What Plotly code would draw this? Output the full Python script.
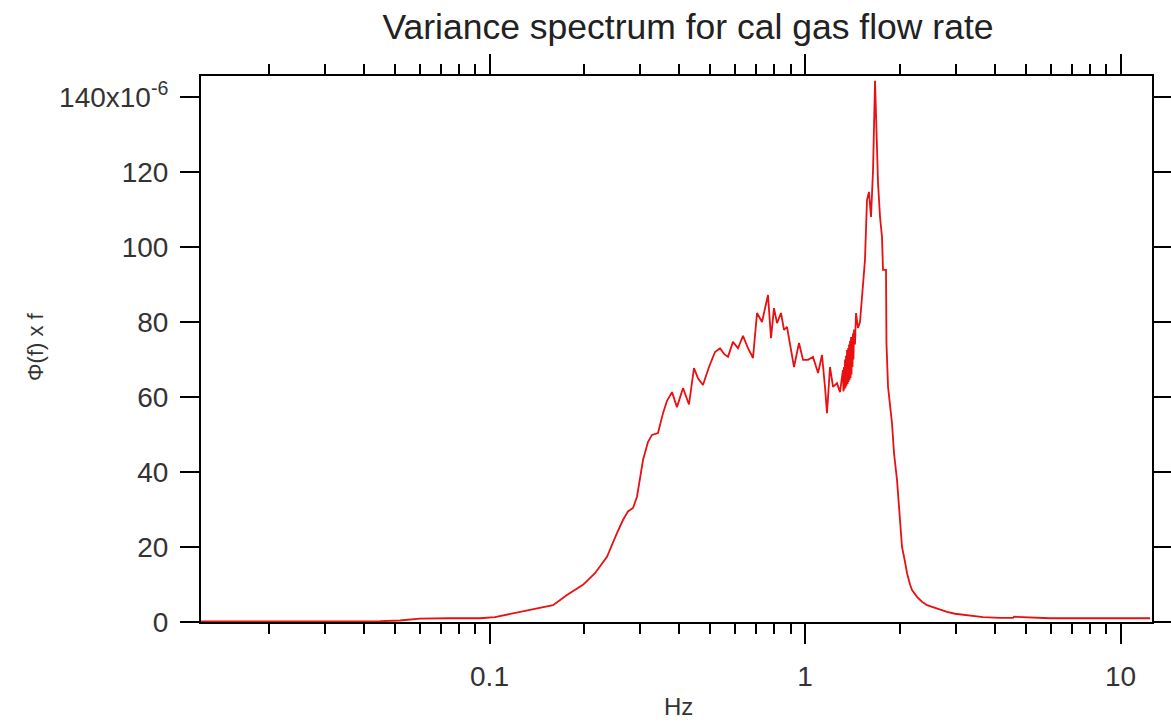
import plotly.graph_objects as go

# Frequency (Hz) and variance spectrum Phi(f) x f (units of 1e-6)
freq_hz = [0.01218, 0.02508, 0.0450, 0.0520, 0.0602, 0.0749, 0.0933, 0.1041, 0.1187, 0.1374,
           0.1590, 0.1760, 0.1978, 0.2160, 0.2357, 0.2535, 0.2649, 0.2748, 0.2850, 0.2934,
           0.3066, 0.3179, 0.3273, 0.3420, 0.3548, 0.3653, 0.3789, 0.3928, 0.4106, 0.4288,
           0.4447, 0.4579, 0.4749, 0.4962, 0.5185, 0.5377, 0.5537, 0.5701, 0.5912, 0.6132,
           0.6361, 0.6597, 0.6842, 0.7045, 0.7307, 0.7633, 0.7802, 0.7975, 0.8152, 0.8394,
           0.8579, 0.8769, 0.8964, 0.9229, 0.9572, 0.9856, 1.022, 1.060, 1.100, 1.132,
           1.157, 1.174, 1.200, 1.227, 1.263, 1.291, 1.319, 1.324, 1.329, 1.334,
           1.339, 1.344, 1.349, 1.354, 1.359, 1.364, 1.369, 1.374, 1.379, 1.384,
           1.389, 1.394, 1.399, 1.404, 1.409, 1.414, 1.419, 1.424, 1.430, 1.440,
           1.451, 1.472, 1.494, 1.516, 1.549,
           1.572, 1.595, 1.619, 1.643, 1.667, 1.692, 1.704, 1.729, 1.754, 1.767,
           1.806, 1.812, 1.833, 1.887, 1.915, 1.957, 2.000, 2.030, 2.075, 2.106,
           2.152, 2.184, 2.265, 2.349, 2.436, 2.527, 2.620, 2.718, 2.818, 2.988,
           3.168, 3.408, 3.666, 4.151, 4.563, 4.60, 5.976, 8.610, 12.41]
phi_f = [0.15, 0.15, 0.2, 0.4, 0.9, 1.0, 1.0, 1.3, 2.3, 3.3,
         4.5, 7.2, 9.9, 13.0, 17.4, 23.7, 27.2, 29.5, 30.4, 33.4,
         43.2, 48.0, 49.9, 50.4, 55.7, 59.0, 61.3, 57.3, 62.4, 58.0,
         67.7, 65.0, 63.2, 68.0, 72.0, 73.0, 71.5, 70.7, 74.7, 73.0,
         76.3, 73.0, 70.4, 82.4, 80.0, 87.2, 75.7, 83.7, 79.7, 82.4,
         77.9, 78.7, 73.9, 68.0, 74.4, 69.9, 69.9, 70.7, 66.4, 71.2,
         62.7, 55.7, 68.0, 62.7, 63.7, 61.3, 67.2, 61.5, 68.0, 62.0,
         70.0, 62.5, 71.0, 63.0, 72.5, 63.5, 73.0, 64.0, 74.0, 64.5,
         75.0, 65.0, 76.0, 66.0, 76.0, 68.0, 77.0, 70.0, 78.0, 74.0,
         82.4, 78.4, 80.0, 85.9, 96.5,
         112.5, 114.7, 108.0, 120.5, 144.3, 126.7, 117.0, 108.0, 102.7, 93.9,
         93.9, 74.4, 62.7, 53.0, 45.0, 37.9, 28.0, 20.0, 16.0, 13.0,
         10.0, 8.5, 6.7, 5.4, 4.5, 4.0, 3.5, 3.0, 2.7, 2.2,
         1.9, 1.6, 1.3, 1.1, 1.1, 1.4, 1.0, 1.0, 1.0]

x_major = [0.1, 1, 10]
x_major_text = ["0.1", "1", "10"]
x_minor = [0.02, 0.03, 0.04, 0.05, 0.06, 0.07, 0.08, 0.09,
           0.2, 0.3, 0.4, 0.5, 0.6, 0.7, 0.8, 0.9,
           2, 3, 4, 5, 6, 7, 8, 9]
y_ticks = [0, 20, 40, 60, 80, 100, 120, 140]
y_tick_text = ["0", "20", "40", "60", "80", "100", "120", "140x10<sup>-6</sup>"]

FONT = "Liberation Sans, Arial, sans-serif"

fig = go.Figure()
fig.add_trace(go.Scatter(x=freq_hz, y=phi_f, mode="lines",
                         line=dict(color="rgb(232,16,16)", width=1.8),
                         showlegend=False))

axis_common = dict(showline=True, linecolor="black", linewidth=2, mirror="allticks",
                   ticks="outside", tickcolor="black", tickwidth=2,
                   showgrid=False, zeroline=False, automargin=False)

fig.update_xaxes(type="log", range=[-1.9144, 1.0998],
                 tickmode="array", tickvals=x_major, ticktext=x_major_text,
                 ticklen=20,
                 minor=dict(tickmode="array", tickvals=x_minor, ticks="outside",
                            ticklen=10, tickcolor="black", tickwidth=2, showgrid=False),
                 tickfont=dict(family=FONT, size=28, color="#333"),
                 ticklabelstandoff=8,
                 **axis_common)
fig.update_yaxes(range=[0, 145.6], tickmode="array", tickvals=y_ticks, ticktext=y_tick_text,
                 ticklen=19,
                 tickfont=dict(family=FONT, size=28, color="#333"),
                 ticklabelstandoff=6,
                 **axis_common)

fig.update_layout(
    width=1171, height=723,
    margin=dict(l=201, r=19, t=76, b=101),
    paper_bgcolor="white", plot_bgcolor="white",
    title=dict(text="Variance spectrum for cal gas flow rate",
               font=dict(family=FONT, size=35.5, color="#222"),
               x=688 / 1171, xanchor="center", xref="container",
               y=1 - 27 / 723, yanchor="middle", yref="container"),
    annotations=[
        dict(text="Hz", xref="paper", yref="paper",
             x=(678 - 201) / 951, y=(622 - 707) / 546,
             xanchor="center", yanchor="middle", showarrow=False,
             font=dict(family=FONT, size=24, color="#333")),
        dict(text="Φ(f) x f", xref="paper", yref="paper",
             x=(35 - 201) / 951, y=(622 - 347) / 546,
             xanchor="center", yanchor="middle", showarrow=False, textangle=-90,
             font=dict(family=FONT, size=22, color="#333")),
    ],
)

fig.write_html("out.html")
